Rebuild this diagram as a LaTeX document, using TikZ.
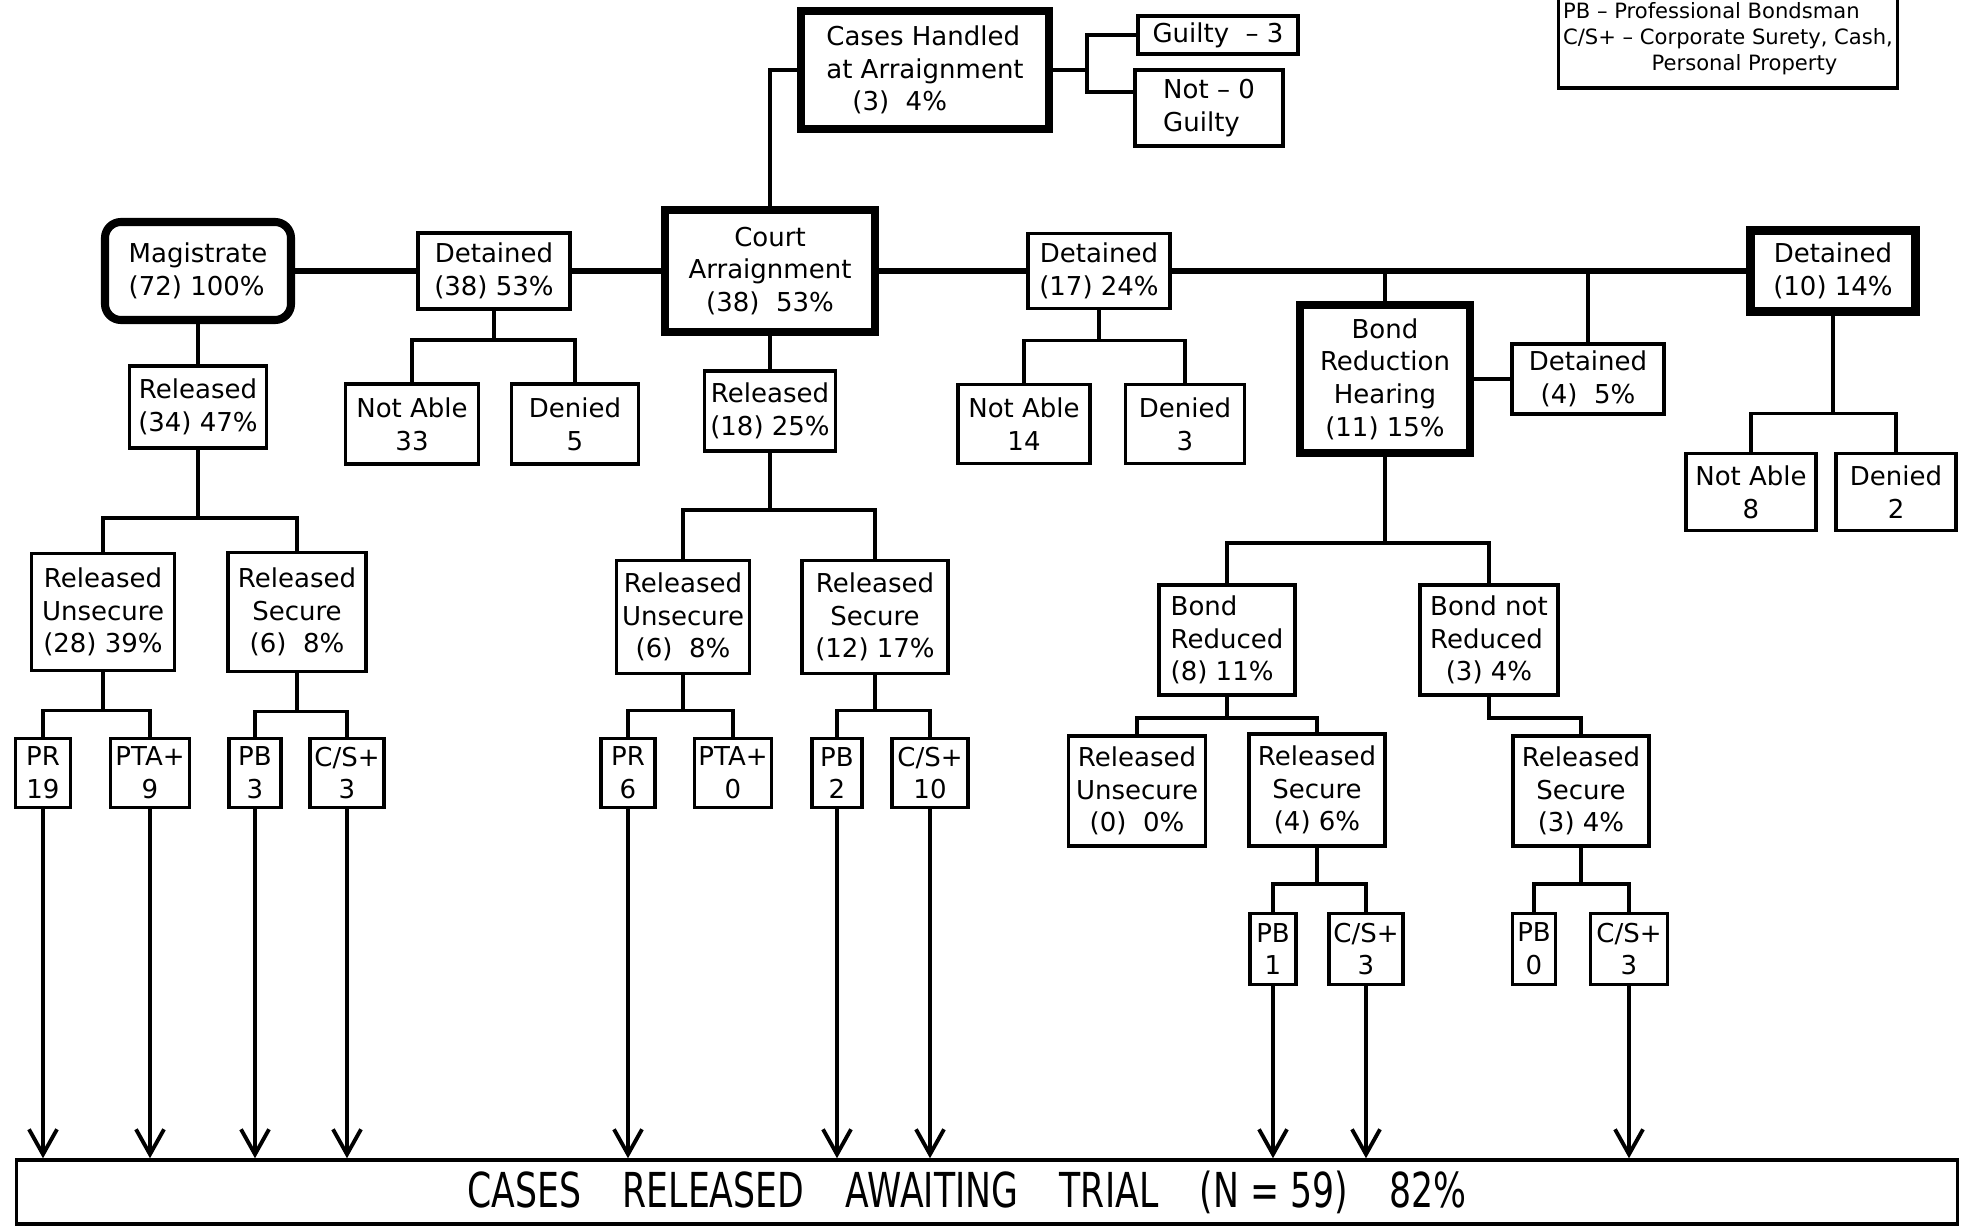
\documentclass[tikz,border=0pt]{standalone}
\usepackage{fontspec}
\setmainfont{DejaVu Sans}
\usepackage{graphicx}
\usetikzlibrary{arrows.meta}

\begin{document}
\begin{tikzpicture}[x=0.1mm,y=-0.1mm,
  box/.style={draw,line width=1pt,inner sep=0.4mm,align=center,font=\fontsize{7.4}{9.3}\selectfont},
  heavy/.style={box,line width=2.3pt},
  link/.style={line width=1pt},
  trunk/.style={line width=1.9pt},
  feed/.style={line width=1.1pt,-{Straight Barb[length=2.5mm,width=2.8mm,line width=1.1pt]}}]
\useasboundingbox (0,0) rectangle (1961,1226);
% top row
\node[box,align=left,minimum width=33.9mm,minimum height=9.8mm,font=\fontsize{6}{7.4}\selectfont] (key) at (1728,39) {PB -- Professional Bondsman\\C/S+ -- Corporate Surety, Cash,\\\hspace{4.2em}Personal Property};
\node[heavy,align=left,minimum width=24.8mm,minimum height=11.8mm] (cha) at (925,70) {Cases Handled\\at Arraignment\\\hspace{1em}(3)\ \ 4\%};
\node[box,minimum width=16mm,minimum height=3.8mm] (guilty) at (1218,35) {Guilty\ \ -- 3};
\node[box,align=left,minimum width=14.8mm,minimum height=7.6mm] (notg) at (1209,108) {Not -- 0\\Guilty};
% main line
\node[heavy,rounded corners=1.6mm,align=left,minimum width=18.6mm,minimum height=9.8mm] (mag) at (198,271) {Magistrate\\(72) 100\%};
\node[box,minimum width=15.2mm,minimum height=7.6mm] (det38) at (494,271) {Detained\\(38) 53\%};
\node[heavy,minimum width=21mm,minimum height=12.2mm] (court) at (770,271) {Court\\Arraignment\\(38)\ \ 53\%};
\node[box,minimum width=14.2mm,minimum height=7.5mm] (det17) at (1099,271) {Detained\\(17) 24\%};
\node[heavy,minimum width=16.5mm,minimum height=8.1mm] (det10) at (1833,271) {Detained\\(10) 14\%};
% second row
\node[box,minimum width=13.7mm,minimum height=8.2mm] (rel34) at (198,407) {Released\\(34) 47\%};
\node[box,minimum width=13.3mm,minimum height=8mm] (na33) at (412,424) {Not Able\\33};
\node[box,minimum width=12.7mm,minimum height=8mm] (den5) at (575,424) {Denied\\5};
\node[box,minimum width=13.1mm,minimum height=8mm] (rel18) at (770,411) {Released\\(18) 25\%};
\node[box,minimum width=13.2mm,minimum height=7.9mm] (na14) at (1024,424) {Not Able\\14};
\node[box,minimum width=11.9mm,minimum height=7.9mm] (den3) at (1185,424) {Denied\\3};
\node[heavy,minimum width=17mm,minimum height=14.8mm] (brh) at (1385,379) {Bond\\Reduction\\Hearing\\(11) 15\%};
\node[box,minimum width=15.2mm,minimum height=7mm] (det4) at (1588,379) {Detained\\(4)\ \ 5\%};
\node[box,minimum width=13mm,minimum height=7.7mm] (na8) at (1751,492) {Not Able\\8};
\node[box,minimum width=12mm,minimum height=7.7mm] (den2) at (1896,492) {Denied\\2};
% third row
\node[box,minimum width=14.3mm,minimum height=11.7mm] (ru28) at (103,612) {Released\\Unsecure\\(28) 39\%};
\node[box,minimum width=13.8mm,minimum height=11.9mm] (rs6) at (297,612) {Released\\Secure\\(6)\ \ 8\%};
\node[box,minimum width=13.3mm,minimum height=11.3mm] (ru6) at (683,617) {Released\\Unsecure\\(6)\ \ 8\%};
\node[box,minimum width=14.6mm,minimum height=11.3mm] (rs12) at (875,617) {Released\\Secure\\(12) 17\%};
\node[box,align=left,minimum width=13.6mm,minimum height=11mm] (br8) at (1227,640) {Bond\\Reduced\\(8) 11\%};
\node[box,align=left,minimum width=13.8mm,minimum height=11mm] (bnr) at (1489,640) {Bond not\\Reduced\\\hspace{0.6em}(3) 4\%};
% small boxes
\node[box,minimum width=5.5mm,minimum height=6.9mm] (pr19) at (43,773) {PR\\19};
\node[box,minimum width=7.9mm,minimum height=6.9mm] (pta9) at (150,773) {PTA+\\9};
\node[box,minimum width=5.2mm,minimum height=6.9mm] (pb3) at (255,773) {PB\\3};
\node[box,minimum width=7.4mm,minimum height=6.9mm] (cs3) at (347,773) {C/S+\\3};
\node[box,minimum width=5.4mm,minimum height=6.9mm] (pr6) at (628,773) {PR\\6};
\node[box,minimum width=7.5mm,minimum height=6.9mm] (pta0) at (733,773) {PTA+\\0};
\node[box,minimum width=5mm,minimum height=6.9mm] (pb2) at (837,773) {PB\\2};
\node[box,minimum width=7.6mm,minimum height=6.9mm] (cs10) at (930,773) {C/S+\\10};
\node[box,minimum width=13.7mm,minimum height=11mm] (ru0) at (1137,791) {Released\\Unsecure\\(0)\ \ 0\%};
\node[box,minimum width=13.6mm,minimum height=11.2mm] (rs4) at (1317,790) {Released\\Secure\\(4) 6\%};
\node[box,minimum width=13.6mm,minimum height=11mm] (rs3) at (1581,791) {Released\\Secure\\(3) 4\%};
\node[box,minimum width=4.6mm,minimum height=7.1mm] (pb1) at (1273,949) {PB\\1};
\node[box,minimum width=7.4mm,minimum height=7.1mm] (cs3b) at (1366,949) {C/S+\\3};
\node[box,minimum width=4.3mm,minimum height=7.1mm] (pb0) at (1534,949) {PB\\0};
\node[box,minimum width=7.7mm,minimum height=7.1mm] (cs3c) at (1629,949) {C/S+\\3};
% bottom
\node[box,minimum width=194.1mm,minimum height=6.4mm,font=\fontsize{13.7}{16}\selectfont] (trial) at (987,1192) {\scalebox{0.72}[1]{CASES\hspace{1.2em}RELEASED\hspace{1.2em}AWAITING\hspace{1.2em}TRIAL\hspace{1.2em}(N = 59)\hspace{1.2em}82\%}\hspace{4mm}};
% trunk
\draw[trunk] (mag) -- (det38);
\draw[trunk] (det38) -- (court);
\draw[trunk] (court) -- (det17);
\draw[trunk] (det17) -- (det10);
\draw[link] (brh) -- (brh |- det17);
\draw[link] (det4) -- (det4 |- det17);
\draw[link] (brh) -- (det4);
\draw[link] (court.north) |- (cha.west);
\draw[link] (cha.east) -- ++(34,0) |- (guilty.west);
\draw[link] (cha.east) -- ++(34,0) |- ([yshift=1.6mm]notg.west);
\draw[link] (mag) -- (rel34);
\draw[link] (court) -- (rel18);
% brackets
\draw[link] (det38.south) -- ++(0,29) -| (na33.north);
\draw[link] (det38.south) -- ++(0,29) -| (den5.north);
\draw[link] (det17.south) -- ++(0,30) -| (na14.north);
\draw[link] (det17.south) -- ++(0,30) -| (den3.north);
\draw[link] (det10.south) -- ++(0,98) -| (na8.north);
\draw[link] (det10.south) -- ++(0,98) -| (den2.north);
\draw[link] (rel34.south) -- ++(0,68) -| (ru28.north);
\draw[link] (rel34.south) -- ++(0,68) -| (rs6.north);
\draw[link] (rel18.south) -- ++(0,57) -| (ru6.north);
\draw[link] (rel18.south) -- ++(0,57) -| (rs12.north);
\draw[link] (ru28.south) -- ++(0,38) -| (pr19.north);
\draw[link] (ru28.south) -- ++(0,38) -| (pta9.north);
\draw[link] (rs6.south) -- ++(0,38) -| (pb3.north);
\draw[link] (rs6.south) -- ++(0,38) -| (cs3.north);
\draw[link] (ru6.south) -- ++(0,35) -| (pr6.north);
\draw[link] (ru6.south) -- ++(0,35) -| (pta0.north);
\draw[link] (rs12.south) -- ++(0,35) -| (pb2.north);
\draw[link] (rs12.south) -- ++(0,35) -| (cs10.north);
\draw[link] (brh.south) -- ++(0,86) -| (br8.north);
\draw[link] (brh.south) -- ++(0,86) -| (bnr.north);
\draw[link] (br8.south) -- ++(0,21) -| (ru0.north);
\draw[link] (br8.south) -- ++(0,21) -| (rs4.north);
\draw[link] (bnr.south) -- ++(0,21) -| (rs3.north);
\draw[link] (rs4.south) -- ++(0,36) -| (pb1.north);
\draw[link] (rs4.south) -- ++(0,36) -| (cs3b.north);
\draw[link] (rs3.south) -- ++(0,36) -| (pb0.north);
\draw[link] (rs3.south) -- ++(0,36) -| (cs3c.north);
% arrows to trial
\draw[feed] (pr19) -- (pr19 |- trial.north);
\draw[feed] (pta9) -- (pta9 |- trial.north);
\draw[feed] (pb3) -- (pb3 |- trial.north);
\draw[feed] (cs3) -- (cs3 |- trial.north);
\draw[feed] (pr6) -- (pr6 |- trial.north);
\draw[feed] (pb2) -- (pb2 |- trial.north);
\draw[feed] (cs10) -- (cs10 |- trial.north);
\draw[feed] (pb1) -- (pb1 |- trial.north);
\draw[feed] (cs3b) -- (cs3b |- trial.north);
\draw[feed] (cs3c) -- (cs3c |- trial.north);
\end{tikzpicture}
\end{document}
